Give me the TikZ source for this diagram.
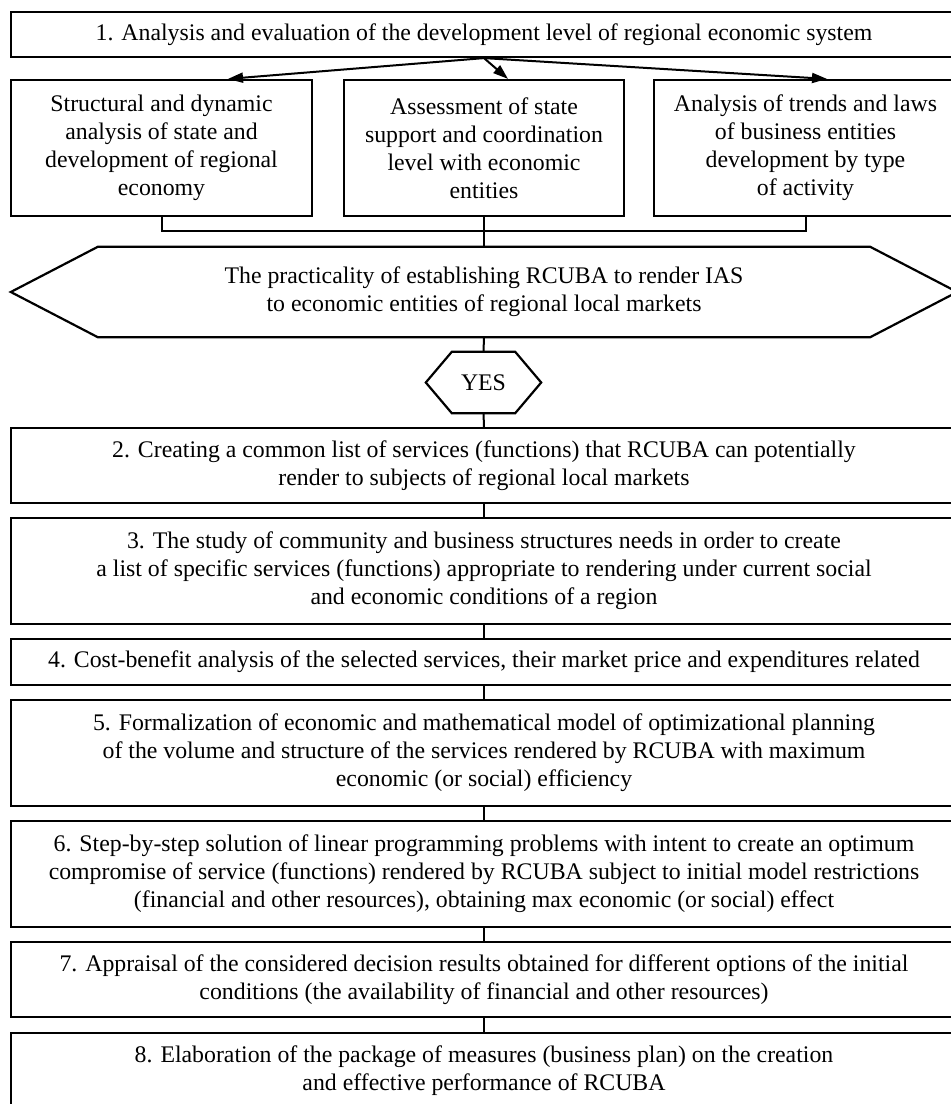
\documentclass[tikz,border=0pt]{standalone}
\usepackage{fontspec}
\setmainfont{Liberation Serif}
\usetikzlibrary{arrows.meta,calc}
\begin{document}
\begin{tikzpicture}[x=1pt,y=-1pt,
  every node/.style={font=\fontsize{23.8}{28}\selectfont, align=center, inner sep=0pt},
  box/.style={draw, rectangle, line width=2.2pt, minimum width=946pt},
  subbox/.style={draw, rectangle, line width=2.2pt, minimum height=136pt},
  ghost/.style={rectangle},
  conn/.style={line width=2pt},
  arr/.style={line width=2pt, -{Triangle[length=15pt,width=10pt]}},
  hexline/.style={line width=2.2pt, line join=miter}]
\clip (0,0) rectangle (951,1104);
\fill[white] (0,0) rectangle (951,1104);

% box 1
\node[box, minimum height=45pt] (b1) at (484,34.5) {1. Analysis and evaluation of the development level of regional economic system};

% sub boxes
\node[subbox, minimum width=301pt] (sA) at (161.5,148) {Structural and dynamic\\analysis of state and\\development of regional\\economy};
\node[subbox, minimum width=280pt] (sB) at (484,148) {Assessment of state\\support and coordination\\level with economic\\entities};
\node[subbox, minimum width=303pt] (sC) at (805.5,148) {Analysis of trends and laws\\of business entities\\development by type\\of activity};

\draw[arr] (b1.south) -- ($(sA.north)+(66.5,0)$);
\draw[arr] (b1.south) -- ($(sB.north)+(24,0)$);
\draw[arr] (b1.south) -- ($(sC.north)+(21.5,0)$);

% big hexagon
\node[ghost, minimum width=946pt, minimum height=90pt] (hex) at (484,292) {The practicality of establishing RCUBA to render IAS\\to economic entities of regional local markets};
\draw[hexline] (hex.west) -- ($(hex.north west)+(87,0)$) -- ($(hex.north east)+(-87,0)$) -- (hex.east)
  -- ($(hex.south east)+(-87,0)$) -- ($(hex.south west)+(87,0)$) -- cycle;

% bracket
\coordinate (join) at (484,230.5);
\draw[conn] (sA.south) -- (sA.south |- join) -- (sC.south |- join) -- (sC.south);
\draw[conn] (sB.south) -- (join) -- (hex.north);

% YES hexagon
\node[ghost, minimum width=115pt, minimum height=61pt] (yes) at (483.5,382.5) {YES};
\draw[hexline] (yes.west) -- ($(yes.north west)+(26,0)$) -- ($(yes.north east)+(-26,0)$) -- (yes.east)
  -- ($(yes.south east)+(-26,0)$) -- ($(yes.south west)+(26,0)$) -- cycle;

% lower boxes
\node[box, minimum height=75pt] (b2) at (484,465.5) {2. Creating a common list of services (functions) that RCUBA can potentially\\render to subjects of regional local markets};
\node[box, minimum height=106pt] (b3) at (484,571) {3. The study of community and business structures needs in order to create\\a list of specific services (functions) appropriate to rendering under current social\\and economic conditions of a region};
\node[box, minimum height=46pt] (b4) at (484,662) {4. Cost-benefit analysis of the selected services, their market price and expenditures related};
\node[box, minimum height=106pt] (b5) at (484,753) {5. Formalization of economic and mathematical model of optimizational planning\\of the volume and structure of the services rendered by RCUBA with maximum\\economic (or social) efficiency};
\node[box, minimum height=106pt] (b6) at (484,874) {6. Step-by-step solution of linear programming problems with intent to create an optimum\\compromise of service (functions) rendered by RCUBA subject to initial model restrictions\\(financial and other resources), obtaining max economic (or social) effect};
\node[box, minimum height=75pt] (b7) at (484,979.5) {7. Appraisal of the considered decision results obtained for different options of the initial\\conditions (the availability of financial and other resources)};
\node[box, minimum height=75pt] (b8) at (484,1070.5) {8. Elaboration of the package of measures (business plan) on the creation\\and effective performance of RCUBA};

% stems
\draw[conn] (hex.south) -- (yes.north);
\draw[conn] (yes.south) -- (b2.north);
\draw[conn] (b2.south) -- (b3.north);
\draw[conn] (b3.south) -- (b4.north);
\draw[conn] (b4.south) -- (b5.north);
\draw[conn] (b5.south) -- (b6.north);
\draw[conn] (b6.south) -- (b7.north);
\draw[conn] (b7.south) -- (b8.north);
\end{tikzpicture}
\end{document}
